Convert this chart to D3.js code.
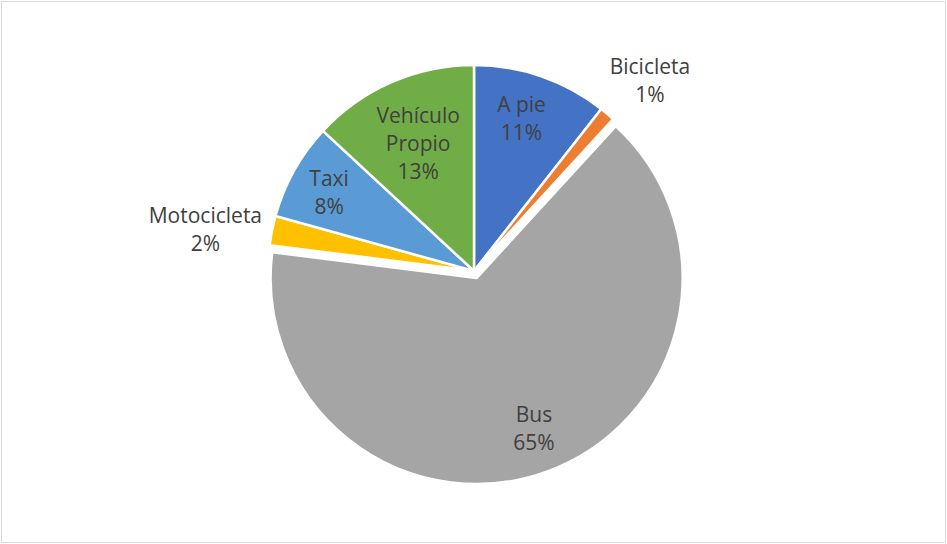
<!DOCTYPE html>
<html>
<head>
<meta charset="utf-8">
<script src="https://cdn.jsdelivr.net/npm/d3@7"></script>
<style>
  html, body { margin: 0; padding: 0; background: #fff; }
</style>
</head>
<body>
<div id="chart"></div>
<script>
// Data (shares in %)
const categories = ["A pie", "Bicicleta", "Bus", "Motocicleta", "Taxi", "Vehículo Propio"];
const shares = [10.6, 1.2, 65.2, 2.3, 7.6, 13.1];
const colors = ["#4472c4", "#ed7d31", "#a5a5a5", "#ffc000", "#5b9bd5", "#70ad47"];

window.onload = function () {
  const width = 947, height = 544;
  const cx = 474, cy = 271, r = 206;

  const svg = d3.select("#chart")
    .append("svg")
    .attr("width", width)
    .attr("height", height);

  // chart area border
  svg.append("rect")
    .attr("x", 1.5).attr("y", 1.5)
    .attr("width", width - 3).attr("height", height - 3)
    .attr("fill", "#fff")
    .attr("stroke", "#d9d9d9")
    .attr("stroke-width", 1);

  const data = categories.map((c, i) => ({ name: c, value: shares[i], color: colors[i] }));

  const pie = d3.pie().sort(null).value(d => d.value);
  const arcs = pie(data);
  const arc = d3.arc().innerRadius(0).outerRadius(r);

  // Bus slice is pulled out a bit
  const explode = { "Bus": 7.5 };
  // label placement (fraction of radius) - outside labels for the tiny slices
  const labelRadius = {
    "A pie": 0.78, "Bicicleta": 1.26, "Bus": 0.78,
    "Motocicleta": 1.32, "Taxi": 0.8, "Vehículo Propio": 0.69
  };
  // small manual nudges, like dragged labels in the original
  const nudge = {
    "A pie": [-5, 0], "Bicicleta": [8, 8], "Motocicleta": [-2, 12],
    "Vehículo Propio": [1, 3], "Taxi": [-1, 2], "Bus": [2, 0]
  };

  const g = svg.append("g").attr("transform", `translate(${cx},${cy})`);

  const slices = g.selectAll("g.slice")
    .data(arcs)
    .enter()
    .append("g")
    .attr("class", "slice")
    .attr("transform", d => {
      const off = explode[d.data.name] || 0;
      const a = (d.startAngle + d.endAngle) / 2;
      return `translate(${off * Math.sin(a)},${-off * Math.cos(a)})`;
    });

  slices.append("path")
    .attr("d", arc)
    .attr("fill", d => d.data.color)
    .attr("stroke", "#fff")
    .attr("stroke-width", 2.5)
    .attr("stroke-linejoin", "round");

  // labels
  slices.each(function (d) {
    const a = (d.startAngle + d.endAngle) / 2;
    const lr = r * labelRadius[d.data.name];
    const nd = nudge[d.data.name] || [0, 0];
    const x = lr * Math.sin(a) + nd[0];
    const y = -lr * Math.cos(a) + nd[1];
    const lines = d.data.name === "Vehículo Propio"
      ? ["Vehículo", "Propio"]
      : [d.data.name];
    lines.push(Math.round(d.data.value) + "%");
    const lh = 28;
    const t = d3.select(this).append("text")
      .attr("text-anchor", "middle")
      .style("font-family", "'Open Sans', Lato, sans-serif")
      .style("font-size", "21px")
      .style("fill", "#404040");
    lines.forEach((ln, i) => {
      t.append("tspan")
        .attr("x", x)
        .attr("y", y + (i - (lines.length - 1) / 2) * lh + 7)
        .text(ln);
    });
  });
};
</script>
</body>
</html>
